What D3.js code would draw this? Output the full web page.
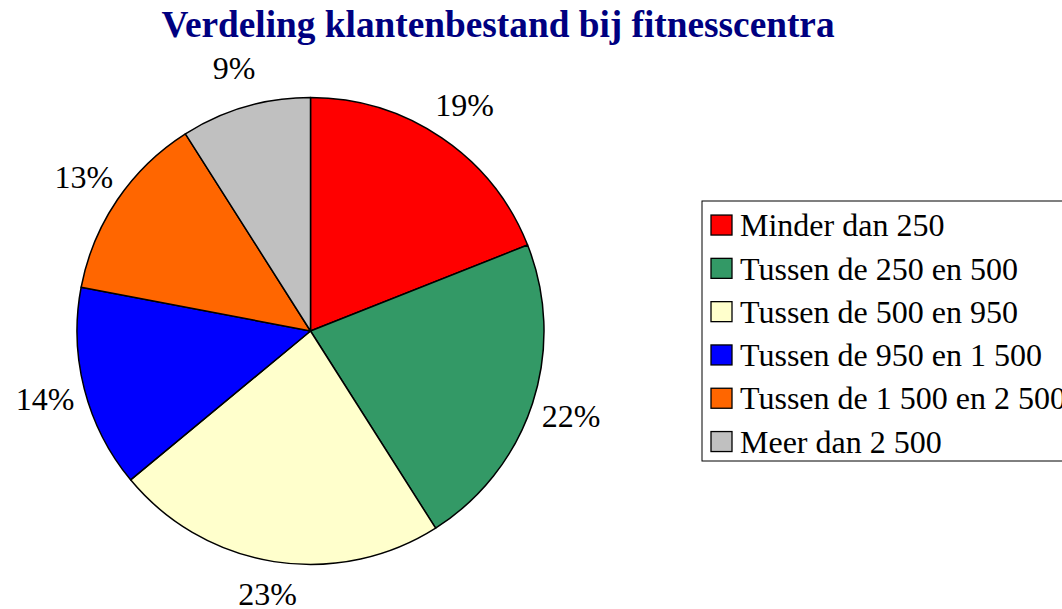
<!DOCTYPE html>
<html>
<head>
<meta charset="utf-8">
<script src="https://cdn.jsdelivr.net/npm/d3@7"></script>
<style>
  body { margin: 0; background: #fff; }
  svg { display: block; }
</style>
</head>
<body>
<svg width="1062" height="609"></svg>
<script>
var categories = ["Minder dan 250", "Tussen de 250 en 500", "Tussen de 500 en 950",
  "Tussen de 950 en 1 500", "Tussen de 1 500 en 2 500", "Meer dan 2 500"];
var values = [19, 22, 23, 14, 13, 9];
var colors = ["#ff0000", "#339966", "#ffffcc", "#0000ff", "#ff6600", "#c0c0c0"];

var svg = d3.select("svg");
var font = "'Liberation Serif', 'Times New Roman', serif";

// title
svg.append("text")
  .attr("x", 498).attr("y", 37)
  .attr("text-anchor", "middle")
  .attr("font-family", font)
  .attr("font-weight", "bold")
  .attr("font-size", 37.3)
  .attr("fill", "#000080")
  .text("Verdeling klantenbestand bij fitnesscentra");

var cx = 310.5, cy = 331, r = 233.5;
var pieData = d3.pie().sort(null).value(function(d) { return d; })(values);
var arc = d3.arc().innerRadius(0).outerRadius(r);
var labelArc = d3.arc().innerRadius(274).outerRadius(274);

var g = svg.append("g").attr("transform", "translate(" + cx + "," + cy + ")");

g.selectAll("path").data(pieData)
  .enter().append("path")
  .attr("d", arc)
  .attr("fill", function(d, i) { return colors[i]; })
  .attr("stroke", "#000")
  .attr("stroke-width", 1.5)
  .attr("stroke-linejoin", "round");

// labels outside the pie, kept inside the bottom of the picture
g.selectAll("text").data(pieData)
  .enter().append("text")
  .attr("transform", function(d) {
    var c = labelArc.centroid(d);
    c[1] = Math.min(c[1], 594 - cy);
    return "translate(" + c + ")";
  })
  .attr("text-anchor", "middle")
  .attr("dy", "0.35em")
  .attr("font-family", font)
  .attr("font-size", 32)
  .attr("fill", "#000")
  .text(function(d) { return d.data + "%"; });

// legend
var legend = svg.append("g").attr("transform", "translate(702,201)");
legend.append("rect")
  .attr("x", 0).attr("y", 0)
  .attr("width", 400).attr("height", 260)
  .attr("fill", "#fff")
  .attr("stroke", "#000")
  .attr("stroke-width", 1);

var rowY = d3.scaleBand().domain(categories).range([2.4, 262.2]);

var rows = legend.selectAll("g.row").data(categories)
  .enter().append("g").attr("class", "row")
  .attr("transform", function(d) { return "translate(0," + (rowY(d) + rowY.bandwidth() / 2) + ")"; });

rows.append("rect")
  .attr("x", 9).attr("y", -10)
  .attr("width", 21).attr("height", 20)
  .attr("fill", function(d, i) { return colors[i]; })
  .attr("stroke", "#000")
  .attr("stroke-width", 1.3);

rows.append("text")
  .attr("x", 38).attr("dy", "0.35em")
  .attr("font-family", font)
  .attr("font-size", 32)
  .attr("fill", "#000")
  .text(function(d) { return d; });
</script>
</body>
</html>
